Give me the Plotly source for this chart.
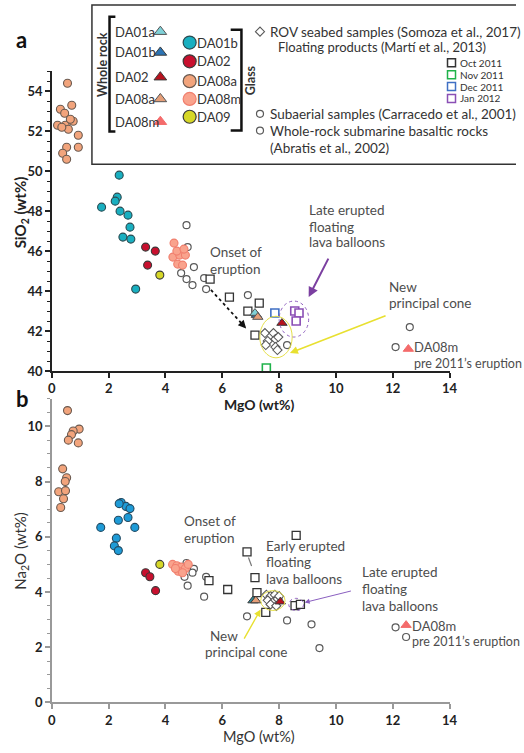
import plotly.graph_objects as go

W, H = 524, 753
FONT = "Lato"
GREY_TXT = "#4D4D4D"
EDGE = "#3A3A3A"

# ---------------- Panel a : SiO2 vs MgO ----------------
a_da08a_glass_mgo = [0.55, 0.30, 0.45, 0.70, 0.75, 0.20, 0.47, 0.58, 0.93, 0.52, 0.93, 0.38, 0.52, 0.35, 0.65]
a_da08a_glass_si = [54.4, 53.1, 52.9, 53.3, 52.5, 52.3, 52.3, 52.1, 51.8, 51.2, 51.2, 50.9, 50.6, 52.2, 52.6]
a_da01b_glass_mgo = [2.37, 2.30, 2.23, 1.75, 2.40, 2.68, 2.75, 2.50, 2.78, 2.95]
a_da01b_glass_si = [49.8, 48.7, 48.5, 48.2, 48.0, 47.8, 47.2, 46.7, 46.6, 44.1]
a_da02_glass_mgo = [3.30, 3.64, 3.37]
a_da02_glass_si = [46.2, 46.0, 45.3]
a_da09_glass_mgo = [3.80]
a_da09_glass_si = [44.8]
a_da08m_glass_mgo = [4.30, 4.26, 4.50, 4.70, 4.43, 4.60, 4.40, 4.65]
a_da08m_glass_si = [46.4, 45.7, 45.8, 45.8, 45.35, 45.3, 46.0, 46.1]
a_circle_mgo = [4.74, 4.78, 5.00, 4.74, 4.95, 5.36, 5.43, 6.90, 8.28, 12.6, 12.1, 4.55]
a_circle_si = [47.3, 46.2, 45.2, 44.6, 44.3, 44.65, 44.1, 43.8, 41.3, 42.2, 41.2, 44.9]
a_oct_mgo = [5.57, 6.25, 7.30, 6.90, 7.15]
a_oct_si = [44.6, 43.7, 43.4, 43.0, 41.8]
a_nov_mgo = [7.55]
a_nov_si = [40.15]
a_dec_mgo = [7.85]
a_dec_si = [42.9]
a_jan_mgo = [8.55, 8.70, 8.60]
a_jan_si = [43.0, 42.9, 42.5]
a_rov_mgo = [7.50, 7.80, 7.60, 7.87, 7.97, 7.53, 7.87, 7.94]
a_rov_si = [41.9, 41.9, 41.5, 41.6, 41.7, 41.3, 41.2, 41.05]
a_wr_da01a = ([7.15], [42.9])
a_wr_da01b = ([7.20], [42.8])
a_wr_da08a = ([7.25], [42.7])
a_wr_da02 = ([8.10], [42.4])
a_wr_da08m = ([12.55], [41.1])

# ---------------- Panel b : Na2O vs MgO ----------------
b_da08a_glass_mgo = [0.55, 0.96, 0.75, 0.69, 0.58, 0.93, 0.38, 0.52, 0.47, 0.24, 0.48, 0.41, 0.31]
b_da08a_glass_na = [10.57, 9.90, 9.83, 9.70, 9.50, 9.40, 8.46, 8.14, 8.00, 7.63, 7.67, 7.38, 7.06]
b_da01b_glass_mgo = [2.44, 2.61, 2.75, 2.34, 2.68, 2.92, 1.72, 2.27, 2.20, 2.34, 2.37]
b_da01b_glass_na = [7.24, 7.10, 7.02, 6.60, 6.70, 6.34, 6.34, 5.95, 5.67, 5.50, 7.20]
b_da02_glass_mgo = [3.30, 3.45, 3.65]
b_da02_glass_na = [4.70, 4.55, 4.05]
b_da09_glass_mgo = [3.80]
b_da09_glass_na = [5.00]
b_da08m_glass_mgo = [4.25, 4.40, 4.55, 4.70, 4.45, 4.60, 4.35, 4.80]
b_da08m_glass_na = [5.00, 4.95, 4.90, 4.85, 4.75, 4.70, 4.85, 5.00]
b_circle_mgo = [4.74, 5.00, 4.95, 4.67, 4.78, 5.43, 5.36, 6.87, 8.28, 9.14, 9.42, 12.1, 12.47]
b_circle_na = [5.05, 4.84, 4.70, 4.55, 4.23, 4.55, 3.83, 3.12, 2.97, 2.83, 1.97, 2.72, 2.37]
b_square_mgo = [8.60, 6.87, 7.15, 6.19, 5.53, 7.22, 7.53, 8.56, 8.75]
b_square_na = [6.05, 5.45, 4.52, 4.09, 4.41, 3.98, 3.26, 3.51, 3.55]
b_rov_mgo = [7.55, 7.70, 7.85, 7.60, 7.80, 7.95, 7.70, 7.90, 8.00]
b_rov_na = [3.90, 3.85, 3.90, 3.70, 3.65, 3.75, 3.55, 3.50, 3.85]
b_wr_da01a = ([7.08], [3.69])
b_wr_da08a = ([7.18], [3.69])
b_wr_da02 = ([8.04], [3.65])
b_wr_da08m = ([12.47], [2.80])

x_ticks = [0, 2, 4, 6, 8, 10, 12, 14]

C_CYAN_A = "#19AFC0"
C_CYAN_B = "#1E9BD7"
C_RED = "#C8102E"
C_ORANGE = "#F2A47C"
C_PINK = "#F9A38D"
C_YELLOW = "#D6D728"
T_DA01A = "#7FD1D8"
T_DA01B = "#2B74B5"
T_DA02 = "#B8121E"
T_DA08A = "#E59E78"
T_DA08M = "#F46B6B"

fig = go.Figure()


def add(xs, ys, xa, ya, symbol, size, color, line_color, lw=1.0):
    fig.add_trace(go.Scatter(x=xs, y=ys, xaxis=xa, yaxis=ya, mode="markers",
                             marker=dict(symbol=symbol, size=size, color=color,
                                         line=dict(color=line_color, width=lw)),
                             showlegend=False, hoverinfo="skip"))


# panel a
add(a_circle_mgo, a_circle_si, "x", "y", "circle", 7, "white", "#5A5A5A", 1.2)
add(a_oct_mgo, a_oct_si, "x", "y", "square", 8, "white", "#333333", 1.3)
add(a_nov_mgo, a_nov_si, "x", "y", "square", 8, "white", "#1FB24A", 1.6)
add(a_dec_mgo, a_dec_si, "x", "y", "square", 8, "white", "#3F6FC4", 1.6)
add(a_jan_mgo, a_jan_si, "x", "y", "square", 8, "white", "#8A4FB5", 1.6)
add(a_rov_mgo, a_rov_si, "x", "y", "diamond", 7, "white", "#5A5A5A", 1.1)
add(a_da08a_glass_mgo, a_da08a_glass_si, "x", "y", "circle", 8, C_ORANGE, "#6A5A50", 1.1)
add(a_da01b_glass_mgo, a_da01b_glass_si, "x", "y", "circle", 8, C_CYAN_A, "#2B4A50", 1.1)
add(a_da02_glass_mgo, a_da02_glass_si, "x", "y", "circle", 8, C_RED, EDGE, 1.1)
add(a_da09_glass_mgo, a_da09_glass_si, "x", "y", "circle", 8, C_YELLOW, EDGE, 1.1)
add(a_da08m_glass_mgo, a_da08m_glass_si, "x", "y", "circle", 8, C_PINK, "#F07F6E", 1.1)
add(*a_wr_da01b, "x", "y", "triangle-up", 9, T_DA01B, EDGE, 1)
add(*a_wr_da01a, "x", "y", "triangle-up", 9, T_DA01A, "#555", 1)
add(*a_wr_da08a, "x", "y", "triangle-up", 9, T_DA08A, "#555", 1)
add(*a_wr_da02, "x", "y", "triangle-up", 9, T_DA02, EDGE, 1)
add(*a_wr_da08m, "x", "y", "triangle-up", 9, T_DA08M, T_DA08M, 1)

# panel b
add(b_circle_mgo, b_circle_na, "x2", "y2", "circle", 7, "white", "#5A5A5A", 1.2)
add(b_square_mgo, b_square_na, "x2", "y2", "square", 8, "white", "#333333", 1.3)
add(b_rov_mgo, b_rov_na, "x2", "y2", "diamond", 7, "white", "#5A5A5A", 1.1)
add(b_da08a_glass_mgo, b_da08a_glass_na, "x2", "y2", "circle", 8, C_ORANGE, "#6A5A50", 1.1)
add(b_da01b_glass_mgo, b_da01b_glass_na, "x2", "y2", "circle", 8, C_CYAN_B, "#244A60", 1.1)
add(b_da02_glass_mgo, b_da02_glass_na, "x2", "y2", "circle", 8, C_RED, EDGE, 1.1)
add(b_da09_glass_mgo, b_da09_glass_na, "x2", "y2", "circle", 8, C_YELLOW, EDGE, 1.1)
add(b_da08m_glass_mgo, b_da08m_glass_na, "x2", "y2", "circle", 8, C_PINK, "#F07F6E", 1.1)
add(*b_wr_da01a, "x2", "y2", "triangle-up", 9, "#2E8E9E", EDGE, 1)
add(*b_wr_da08a, "x2", "y2", "triangle-up", 9, T_DA08A, EDGE, 1)
add(*b_wr_da02, "x2", "y2", "triangle-up", 9, T_DA02, EDGE, 1)
add(*b_wr_da08m, "x2", "y2", "triangle-up", 9, T_DA08M, T_DA08M, 1)

# ---------------- legend (pixel overlay axis x3/y3) ----------------
leg_tri_names = ["DA01a", "DA01b", "DA02", "DA08a", "DA08m"]
leg_tri_colors = [T_DA01A, T_DA01B, T_DA02, T_DA08A, T_DA08M]
leg_tri_y = [32, 53, 78, 100, 123]
leg_circ_names = ["DA01b", "DA02", "DA08a", "DA08m", "DA09"]
leg_circ_colors = [C_CYAN_A, C_RED, C_ORANGE, C_PINK, C_YELLOW]
leg_circ_y = [43, 62, 82, 100, 118]
leg_sq_names = ["Oct 2011", "Nov 2011", "Dec 2011", "Jan 2012"]
leg_sq_colors = ["#333333", "#1FB24A", "#3F6FC4", "#8A4FB5"]
leg_sq_y = [63.5, 75.5, 87.5, 99.5]

add([160] * 5, leg_tri_y, "x3", "y3", "triangle-up", 11, leg_tri_colors,
    ["#555", EDGE, EDGE, "#555", T_DA08M], 1)
add([190] * 5, leg_circ_y, "x3", "y3", "circle", 13, leg_circ_colors,
    ["#2B4A50", EDGE, "#6A5A50", "#F07F6E", EDGE], 1.2)
add([458] * 4, leg_sq_y, "x3", "y3", "square", 8, "white", leg_sq_colors, 1.5)
add([262], [32], "x3", "y3", "diamond", 7, "white", "#5A5A5A", 1.1)
add([262, 262], [115, 132], "x3", "y3", "circle", 7, "white", "#5A5A5A", 1.2)

ann = []


def text(x, y, s, size=13.5, color=GREY_TXT, xanchor="left", bold=False, angle=0):
    ann.append(dict(x=x, y=y, xref="x3", yref="y3", text=s, showarrow=False,
                    xanchor=xanchor, yanchor="middle", textangle=angle, borderpad=0,
                    font=dict(family=FONT, size=size, color=color,
                              weight="bold" if bold else "normal")))


for n, y in zip(leg_tri_names, leg_tri_y):
    text(113, y, n, 13, "#333")
for n, y in zip(leg_circ_names, leg_circ_y):
    text(197, y, n, 13, "#333")
for n, y in zip(leg_sq_names, leg_sq_y):
    text(466, y, n, 10, "#333")
text(101, 65, "Whole rock", 12.5, "#333", "center", True, -90)
text(252, 81, "Glass", 12.5, "#333", "center", True, -90)
text(271, 32, "ROV seabed samples (Somoza et al., 2017)", 13.5, "#333")
text(279, 48, "Floating products (Martí et al., 2013)", 13, "#333")
text(271, 115, "Subaerial samples (Carracedo et al., 2001)", 13.5, "#333")
text(271, 132, "Whole-rock submarine basaltic rocks", 13.5, "#333")
text(271, 150, "(Abratis et al., 2002)", 13.5, "#333")

# panel labels and axis titles
text(18, 40, "a", 22, "#111", "center", True)
text(19, 403, "b", 22, "#111", "center", True)
text(17, 215, "SiO<sub>2</sub> (wt%)", 15, "#222", "center", True, -90)
text(17, 557, "Na<sub>2</sub>O (wt%)", 15, "#333", "center", False, -90)
text(261, 409, "MgO (wt%)", 14, "#222", "center", True)
text(261, 744, "MgO (wt%)", 14.5, "#333", "center", False)

# panel a notes
text(210, 255, "Onset of")
text(210, 272, "eruption")
text(311, 212, "Late erupted")
text(311, 229, "floating")
text(311, 245, "lava balloons")
text(393, 290, "New")
text(393, 306, "principal cone")
text(419, 351, "DA08m", 13)
text(419, 367, "pre 2011’s eruption", 12.5)
# panel b notes
text(183, 527, "Onset of")
text(183, 544, "eruption")
text(267, 552, "Early erupted")
text(267, 568, "floating")
text(267, 585, "lava balloons")
text(365, 578, "Late erupted")
text(365, 595, "floating")
text(365, 612, "lava balloons")
text(210, 643, "New")
text(205, 659, "principal cone")
text(417, 633, "DA08m", 13)
text(417, 648, "pre 2011’s eruption", 12.5)


def arrow(xh, yh, xt, yt, xa, ya, color, width, head=2, size=1.0):
    ann.append(dict(x=xh, y=yh, ax=xt, ay=yt, xref=xa, yref=ya, axref=xa, ayref=ya,
                    text="", showarrow=True, arrowhead=head, arrowsize=size,
                    arrowwidth=width, arrowcolor=color))


arrow(9.04, 43.7, 9.76, 45.7, "x", "y", "#7B3FA0", 2)
arrow(8.38, 40.9, 11.8, 42.8, "x", "y", "#E8E030", 1.6)
arrow(6.84, 42.13, 6.65, 42.42, "x", "y", "#111", 1.6)
arrow(8.9, 3.62, 10.58, 4.05, "x2", "y2", "#8A5FC0", 1)
arrow(7.35, 3.37, 6.74, 2.26, "x2", "y2", "#E8E030", 1.4)

shapes = [
    # legend box
    dict(type="rect", xref="x3", yref="y3", x0=90, x1=532, y0=5, y1=166,
         line=dict(color="#333", width=1.5)),
    # whole rock bracket
    dict(type="path", xref="x3", yref="y3", path="M 114 17 L 108 17 L 108 133 L 114 133",
         line=dict(color="#111", width=2.5)),
    # glass bracket
    dict(type="path", xref="x3", yref="y3", path="M 232 30 L 243 30 L 243 132 L 232 132",
         line=dict(color="#111", width=2.5)),
    # panel a ellipses and dotted arrow
    dict(type="circle", xref="x", yref="y", x0=7.32, x1=8.46, y0=40.66, y1=42.74,
         line=dict(color="#E6E04A", width=1)),
    dict(type="circle", xref="x", yref="y", x0=8.0, x1=9.04, y0=41.7, y1=43.5,
         line=dict(color="#8F5FBF", width=1, dash="dot")),
    dict(type="line", xref="x", yref="y", x0=5.6, y0=44.06, x1=6.75, y1=42.27,
         line=dict(color="#111", width=1.8, dash="dot")),
    # panel b ellipses and dashed segment
    dict(type="circle", xref="x2", yref="y2", x0=7.35, x1=8.21, y0=3.33, y1=4.05,
         line=dict(color="#E6E04A", width=1)),
    dict(type="circle", xref="x2", yref="y2", x0=8.34, x1=8.86, y0=3.33, y1=3.77,
         line=dict(color="#8F5FBF", width=1, dash="dot")),
    dict(type="line", xref="x2", yref="y2", x0=6.92, y0=5.25, x1=7.12, y1=4.7,
         line=dict(color="#777", width=1.2, dash="dash")),
]

xdom = [49 / W, 456 / W]
tickfont = dict(family=FONT, size=13, color="#222", weight="bold")


def xaxis(anchor, color):
    return dict(domain=xdom, range=[0, 14], anchor=anchor, tickmode="array", tickvals=x_ticks,
                showline=True, linecolor=color, linewidth=1.5, ticks="outside", ticklen=5,
                tickwidth=1.5, tickcolor=color, showgrid=False, zeroline=False,
                tickfont=tickfont, fixedrange=True)


def yaxis(anchor, color, dom, rng, t0):
    return dict(domain=dom, range=rng, anchor=anchor, tick0=t0, dtick=2,
                showline=True, linecolor=color, linewidth=1.5, ticks="outside", ticklen=5,
                tickwidth=1.5, tickcolor=color, showgrid=False, zeroline=False,
                tickfont=tickfont, fixedrange=True,
                minor=dict(dtick=0.5, ticks="outside", ticklen=3, tickcolor=color, tickwidth=1))


fig.update_layout(
    width=W, height=H, margin=dict(l=0, r=0, t=0, b=0),
    paper_bgcolor="white", plot_bgcolor="rgba(0,0,0,0)", showlegend=False,
    xaxis=xaxis("y", "#222"),
    yaxis=yaxis("x", "#222", [(H - 375) / H, (H - 72) / H], [40, 55], 40),
    xaxis2=xaxis("y2", "#999"),
    yaxis2=yaxis("x2", "#999", [(H - 710) / H, (H - 403) / H], [0, 11], 0),
    xaxis3=dict(domain=[0, 1], range=[0, W], anchor="y3", visible=False, fixedrange=True),
    yaxis3=dict(domain=[0, 1], range=[H, 0], anchor="x3", visible=False, fixedrange=True),
    annotations=ann, shapes=shapes,
)

fig.write_html("out.html")
